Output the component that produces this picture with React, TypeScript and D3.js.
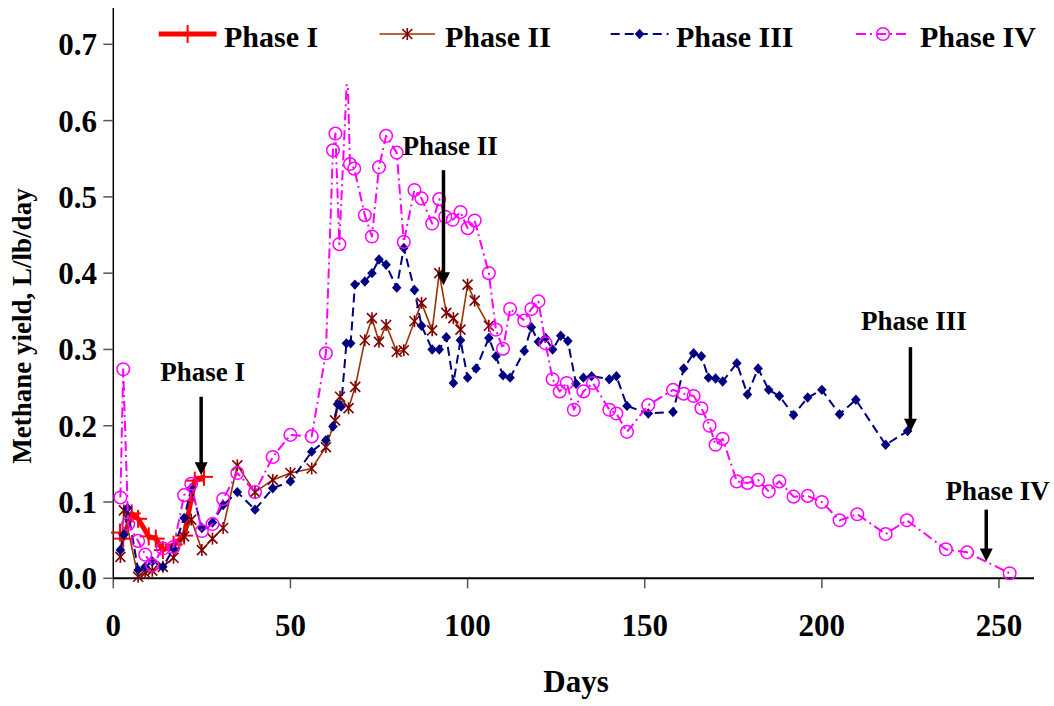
import React from "react";
import * as d3 from "d3";

// ---- data -------------------------------------------------------------
const phase1Days = [1.9, 2.8, 5.2, 7, 10, 12, 14, 17, 20, 23, 25.6];
const phase1Yield = [0.06, 0.052, 0.085, 0.078, 0.055, 0.052, 0.037, 0.044, 0.056, 0.128, 0.133];

const phase2Days = [2, 3, 7, 9, 11, 14, 17, 20, 22, 25, 28, 31, 35, 40, 45, 50, 56, 60, 62.6, 64,
  66.4, 68.3, 71, 73, 75, 77, 80, 82, 85, 87, 90, 92, 94, 96, 98, 100, 102, 106];
const phase2Yield = [0.028, 0.089, 0.002, 0.007, 0.01, 0.015, 0.027, 0.055, 0.077, 0.037,
  0.052, 0.066, 0.148, 0.113, 0.129, 0.138, 0.144, 0.172, 0.207, 0.238,
  0.223, 0.251, 0.312, 0.341, 0.31, 0.332, 0.297, 0.299, 0.337, 0.361,
  0.325, 0.4, 0.348, 0.341, 0.326, 0.385, 0.364, 0.331];

const phase3Days = [2, 3, 4, 7, 9, 11, 14, 17, 20, 22, 25, 28, 31, 35, 40, 45, 50, 56, 60, 62,
  63.3, 64.3, 65.8, 67, 68.2, 71, 73, 75, 77, 80, 82, 85, 87, 90, 92, 94, 96, 98, 100, 102.4,
  106, 108, 110, 112, 116, 118, 120, 122, 124, 126.3, 128.3, 130.6, 132.7, 135, 140, 142, 145,
  151, 158, 161, 163.8, 166, 168, 170, 172, 176, 179, 182, 185, 188, 192, 196, 200, 205, 209.6,
  218, 224.2];
const phase3Yield = [0.037, 0.057, 0.092, 0.011, 0.015, 0.022, 0.015, 0.039, 0.079, 0.118,
  0.066, 0.073, 0.096, 0.113, 0.09, 0.118, 0.127, 0.166, 0.181, 0.199,
  0.228, 0.225, 0.308, 0.308, 0.385, 0.389, 0.4, 0.418, 0.411, 0.381,
  0.433, 0.378, 0.331, 0.3, 0.3, 0.316, 0.256, 0.312, 0.263, 0.275,
  0.315, 0.291, 0.266, 0.263, 0.298, 0.329, 0.31, 0.315, 0.3, 0.318,
  0.311, 0.255, 0.263, 0.265, 0.261, 0.265, 0.226, 0.216, 0.218, 0.275,
  0.295, 0.291, 0.263, 0.262, 0.258, 0.282, 0.241, 0.275, 0.247, 0.239,
  0.214, 0.237, 0.247, 0.215, 0.234, 0.175, 0.193];

const phase4Days = [2, 2.8, 4.2, 7, 9, 11, 14, 17, 20, 22, 25, 28, 31, 35, 40, 45, 50, 56, 60, 62,
  62.7, 63.8, 66.1, 66.8, 68, 71, 73, 75, 77, 80, 82, 85, 87, 90, 92, 93.7, 95.8, 98, 100, 102,
  106, 108, 110, 112, 116, 118, 120, 122, 124, 126, 128, 130, 132.7, 135.4, 140, 142, 145, 151,
  158, 161, 163.8, 166, 168.3, 170, 172, 176, 179, 182, 185, 188, 192, 196, 200, 205, 210, 218,
  224, 235, 241, 253];
const phase4Yield = [0.106, 0.274, 0.071, 0.049, 0.031, 0.017, 0.039, 0.041, 0.109, 0.124,
  0.062, 0.071, 0.104, 0.138, 0.113, 0.159, 0.188, 0.186, 0.295, 0.561,
  0.583, 0.438, 0.67, 0.543, 0.537, 0.476, 0.448, 0.539, 0.58, 0.558,
  0.441, 0.509, 0.498, 0.465, 0.497, 0.474, 0.47, 0.48, 0.459, 0.469,
  0.4, 0.326, 0.301, 0.353, 0.338, 0.353, 0.363, 0.308, 0.261, 0.245,
  0.256, 0.221, 0.245, 0.256, 0.221, 0.216, 0.192, 0.227, 0.247, 0.242,
  0.239, 0.223, 0.2, 0.175, 0.183, 0.127, 0.125, 0.129, 0.114, 0.127,
  0.107, 0.108, 0.1, 0.076, 0.084, 0.058, 0.076, 0.038, 0.034, 0.0066];

const xTicks = [0, 50, 100, 150, 200, 250];
const yTicks = [0, 0.1, 0.2, 0.3, 0.4, 0.5, 0.6, 0.7];
const seriesNames = ["Phase I", "Phase II", "Phase III", "Phase IV"];

// end-of-phase annotations: day the arrow points at, arrow tip / tail values, label position
const noteLabels = ["Phase I", "Phase II", "Phase III", "Phase IV"];
const noteDays = [24.8, 93.2, 225, 246.4];
const noteTip = [0.135, 0.384, 0.192, 0.022];
const noteTail = [0.238, 0.535, 0.303, 0.09];
const noteLabelDays = [25.2, 95.1, 226, 249.6];
const noteLabelValues = [0.258, 0.555, 0.326, 0.102];

// ---- layout -----------------------------------------------------------
const W = 1054;
const H = 706;
const FONT = "'Liberation Serif', 'Times New Roman', Times, serif";

const x = d3.scaleLinear().domain([0, 250]).range([113.3, 999]);
const y = d3.scaleLinear().domain([0, 0.7]).range([578.3, 44.3]);
const plotRight = 1034;
const plotTop = 8;
const valueCeiling = 0.648; // off-scale readings are cut here

type Pt = [number, number];
const zip = (a: number[], b: number[]): Pt[] => a.map((d, i) => [d, b[i]]);

const lineGen = d3
  .line<Pt>()
  .x((d) => x(d[0]))
  .y((d) => y(d[1]));

const RED = "#FF0000";
const BROWN = "#993300";
const MAROON = "#800000";
const NAVY = "#000080";
const MAGENTA = "#FF00FF";

function Plus({ cx, cy }: { cx: number; cy: number }) {
  const s = 9;
  return (
    <g stroke={RED} strokeWidth={2}>
      <line x1={cx - s} x2={cx + s} y1={cy} y2={cy} />
      <line x1={cx} x2={cx} y1={cy - s} y2={cy + s} />
    </g>
  );
}

function Star({ cx, cy }: { cx: number; cy: number }) {
  const s = 5;
  return (
    <g stroke={MAROON} strokeWidth={1.6}>
      <line x1={cx - s} x2={cx + s} y1={cy - s} y2={cy + s} />
      <line x1={cx - s} x2={cx + s} y1={cy + s} y2={cy - s} />
      <line x1={cx} x2={cx} y1={cy - s - 1} y2={cy + s + 1} />
    </g>
  );
}

function Diamond({ cx, cy }: { cx: number; cy: number }) {
  const w = 4.8;
  const h = 5.2;
  return (
    <polygon
      points={`${cx},${cy - h} ${cx + w},${cy} ${cx},${cy + h} ${cx - w},${cy}`}
      fill={NAVY}
    />
  );
}

function Ring({ cx, cy }: { cx: number; cy: number }) {
  return <circle cx={cx} cy={cy} r={6.3} fill="none" stroke={MAGENTA} strokeWidth={1.5} />;
}

const seriesStyles = [
  { stroke: RED, width: 5, dash: undefined as string | undefined, Marker: Plus },
  { stroke: BROWN, width: 1.6, dash: undefined, Marker: Star },
  { stroke: NAVY, width: 2, dash: "9,5", Marker: Diamond },
  { stroke: MAGENTA, width: 2, dash: "10,4,2,4", Marker: Ring },
];

const seriesData: Pt[][] = [
  zip(phase1Days, phase1Yield),
  zip(phase2Days, phase2Yield),
  zip(phase3Days, phase3Yield),
  zip(phase4Days, phase4Yield),
];

// legend sample positions
const legendLineX = [[158.7, 216.5], [379.5, 435], [610.7, 668.5], [856, 910]];
const legendTextX = [224, 445, 676, 920];
const legendY = 34;

function Arrow({ xp, y1, y2 }: { xp: number; y1: number; y2: number }) {
  const hl = 13;
  const hw = 6.5;
  return (
    <g>
      <line x1={xp} x2={xp} y1={y1} y2={y2 - hl + 1} stroke="#000" strokeWidth={3.5} />
      <polygon points={`${xp - hw},${y2 - hl} ${xp + hw},${y2 - hl} ${xp},${y2}`} fill="#000" />
    </g>
  );
}

export default function App() {
  const inRange = (p: Pt) => p[1] <= valueCeiling;
  return (
    <svg
      width={W}
      height={H}
      viewBox={`0 0 ${W} ${H}`}
      style={{ position: "absolute", left: 0, top: 0, background: "#fff" }}
      fontFamily={FONT}
      fontWeight="bold"
    >
      <defs>
        <clipPath id="valueClip">
          <rect x={100} y={y(valueCeiling)} width={plotRight - 100 + 10} height={H} />
        </clipPath>
      </defs>

      {/* axes */}
      <line x1={x(0)} x2={x(0)} y1={plotTop} y2={y(0)} stroke="#000" strokeWidth={1.5} />
      {yTicks.map((t) => (
        <g key={"yt" + t}>
          <line x1={x(0) - 10} x2={x(0)} y1={y(t)} y2={y(t)} stroke="#555" strokeWidth={1.5} />
          <text x={97} y={y(t) + 11} textAnchor="end" fontSize={31}>
            {t.toFixed(1)}
          </text>
        </g>
      ))}
      {xTicks.map((t) => (
        <g key={"xt" + t}>
          <line x1={x(t)} x2={x(t)} y1={y(0)} y2={y(0) + 10} stroke="#555" strokeWidth={1.5} />
          <text x={x(t)} y={636} textAnchor="middle" fontSize={31}>
            {t}
          </text>
        </g>
      ))}
      <line x1={x(0)} x2={plotRight} y1={y(0)} y2={y(0)} stroke="#000" strokeWidth={2} />

      <text x={576} y={692} textAnchor="middle" fontSize={31}>
        Days
      </text>
      <text transform={`translate(31, 326) rotate(-90)`} textAnchor="middle" fontSize={27}>
        Methane yield, L/lb/day
      </text>

      {/* series */}
      {seriesData.map((pts, i) => {
        const st = seriesStyles[i];
        const M = st.Marker;
        return (
          <g key={"s" + i}>
            <path
              d={lineGen(pts) || ""}
              fill="none"
              stroke={st.stroke}
              strokeWidth={st.width}
              strokeDasharray={st.dash}
              strokeLinejoin="round"
              clipPath="url(#valueClip)"
            />
            {pts.filter(inRange).map((p, j) => (
              <M key={j} cx={x(p[0])} cy={y(p[1])} />
            ))}
          </g>
        );
      })}

      {/* phase annotations */}
      {noteLabels.map((lab, i) => (
        <g key={"n" + i}>
          <Arrow xp={x(noteDays[i])} y1={y(noteTail[i])} y2={y(noteTip[i])} />
          <text x={x(noteLabelDays[i])} y={y(noteLabelValues[i])} textAnchor="middle" fontSize={27}>
            {lab}
          </text>
        </g>
      ))}

      {/* legend */}
      {seriesNames.map((name, i) => {
        const st = seriesStyles[i];
        const M = st.Marker;
        const [a, b] = legendLineX[i];
        return (
          <g key={"lg" + i}>
            <line
              x1={a}
              x2={b}
              y1={legendY}
              y2={legendY}
              stroke={st.stroke}
              strokeWidth={st.width}
              strokeDasharray={st.dash}
            />
            <M cx={(a + b) / 2} cy={legendY} />
            <text x={legendTextX[i]} y={46.7} fontSize={30}>
              {name}
            </text>
          </g>
        );
      })}
    </svg>
  );
}
